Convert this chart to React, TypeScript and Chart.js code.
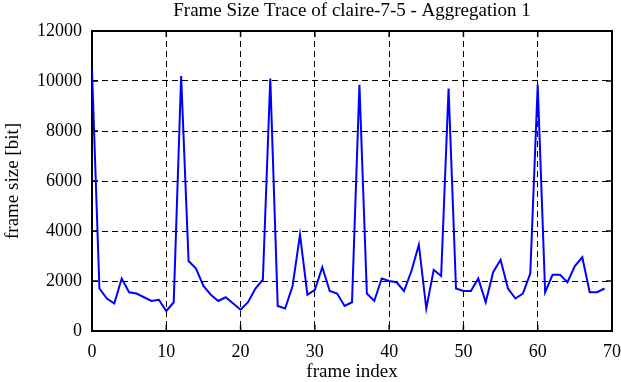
import React, { useEffect, useRef } from "react";
import { Chart, registerables } from "chart.js";

Chart.register(...registerables);

const TITLE = "Frame Size Trace of claire-7-5 - Aggregation 1";
const X_LABEL = "frame index";
const Y_LABEL = "frame size [bit]";

const frameIndex: number[] = [
  0, 1, 2, 3, 4, 5, 6, 7, 8, 9,
  10, 11, 12, 13, 14, 15, 16, 17, 18, 19,
  20, 21, 22, 23, 24, 25, 26, 27, 28, 29,
  30, 31, 32, 33, 34, 35, 36, 37, 38, 39,
  40, 41, 42, 43, 44, 45, 46, 47, 48, 49,
  50, 51, 52, 53, 54, 55, 56, 57, 58, 59,
  60, 61, 62, 63, 64, 65, 66, 67, 68, 69,
];

const frameSize: number[] = [
  10450, 1700, 1300, 1100, 2100, 1550, 1500, 1350, 1200, 1250,
  800, 1150, 10200, 2800, 2500, 1800, 1450, 1200, 1350, 1100,
  850, 1150, 1700, 2050, 10100, 1000, 900, 1800, 3850, 1450,
  1650, 2550, 1600, 1500, 1000, 1150, 9850, 1500, 1200, 2100,
  2000, 1950, 1600, 2400, 3450, 900, 2450, 2200, 9700, 1700,
  1600, 1600, 2100, 1150, 2350, 2850, 1700, 1300, 1500, 2300,
  9850, 1550, 2250, 2250, 1950, 2600, 2950, 1550, 1550, 1700,
];

const X_MIN = 0;
const X_MAX = 70;
const X_STEP = 10;
const Y_MIN = 0;
const Y_MAX = 12000;
const Y_STEP = 2000;

const FONT = "'Liberation Serif', 'Times New Roman', Times, serif";

const framePlugin = {
  id: "frameBox",
  beforeDatasetsDraw(chart: any) {
    const { ctx, chartArea, scales } = chart;
    const { left, right, top, bottom } = chartArea;
    ctx.save();
    ctx.strokeStyle = "#000";
    ctx.lineWidth = 1.5;
    ctx.setLineDash([]);
    const tl = 6;
    ctx.beginPath();
    scales.x.ticks.forEach((t: any) => {
      const px = scales.x.getPixelForValue(t.value);
      ctx.moveTo(px, bottom);
      ctx.lineTo(px, bottom - tl);
      ctx.moveTo(px, top);
      ctx.lineTo(px, top + tl);
    });
    scales.y.ticks.forEach((t: any) => {
      const py = scales.y.getPixelForValue(t.value);
      ctx.moveTo(left, py);
      ctx.lineTo(left + tl, py);
      ctx.moveTo(right, py);
      ctx.lineTo(right - tl, py);
    });
    ctx.stroke();
    ctx.lineWidth = 2;
    ctx.strokeRect(left, top, right - left, bottom - top);
    ctx.restore();
  },
};

export default function App() {
  const canvasRef = useRef<HTMLCanvasElement | null>(null);

  useEffect(() => {
    document.body.style.margin = "0";
    const canvas = canvasRef.current;
    if (!canvas) return;
    const points = frameIndex.map((x, i) => ({ x, y: frameSize[i] }));
    const chart = new Chart(canvas, {
      type: "line",
      data: {
        datasets: [
          {
            data: points,
            borderColor: "rgb(0,0,255)",
            borderWidth: 2,
            pointRadius: 0,
            tension: 0,
            fill: false,
          },
        ],
      },
      options: {
        animation: false,
        responsive: true,
        maintainAspectRatio: false,
        layout: { padding: { top: 0, right: 0, left: 0, bottom: 0 } },
        plugins: {
          legend: { display: false },
          tooltip: { enabled: false },
          title: {
            display: true,
            text: TITLE,
            fullSize: false,
            color: "#000",
            font: { family: FONT, size: 19, weight: "normal", lineHeight: 1.2 },
            padding: { top: 0, bottom: 8.2 },
          },
        },
        scales: {
          x: {
            type: "linear",
            min: X_MIN,
            max: X_MAX,
            afterFit: (scale: any) => {
              scale.height = 51;
              scale.paddingRight = 9;
              scale.paddingLeft = 0;
            },
            ticks: {
              stepSize: X_STEP,
              color: "#000",
              padding: 10,
              maxRotation: 0,
              font: { family: FONT, size: 18 },
              callback: (v: any) => String(v),
            },
            grid: {
              display: true,
              color: "#000",
              lineWidth: 1,
              drawTicks: false,
            },
            border: { display: false, dash: [6, 4] },
            title: {
              display: true,
              text: X_LABEL,
              color: "#000",
              font: { family: FONT, size: 19, lineHeight: 1 },
              padding: { top: 0, bottom: 0 },
            },
          },
          y: {
            type: "linear",
            min: Y_MIN,
            max: Y_MAX,
            afterFit: (scale: any) => {
              scale.width = 92;
              scale.paddingTop = 0;
              scale.paddingBottom = 0;
            },
            ticks: {
              stepSize: Y_STEP,
              color: "#000",
              padding: 10,
              font: { family: FONT, size: 18 },
              callback: (v: any) => String(v),
            },
            grid: {
              display: true,
              color: "#000",
              lineWidth: 1,
              drawTicks: false,
            },
            border: { display: false, dash: [6, 4] },
            title: {
              display: true,
              text: Y_LABEL,
              color: "#000",
              font: { family: FONT, size: 19, lineHeight: 1.2 },
              padding: { top: 2, bottom: 0 },
            },
          },
        },
      },
      plugins: [framePlugin],
    });
    return () => chart.destroy();
  }, []);

  return (
    <div style={{ position: "fixed", left: 0, top: 0, width: 621, height: 382, background: "#fff" }}>
      <canvas ref={canvasRef} style={{ display: "block" }} />
    </div>
  );
}
